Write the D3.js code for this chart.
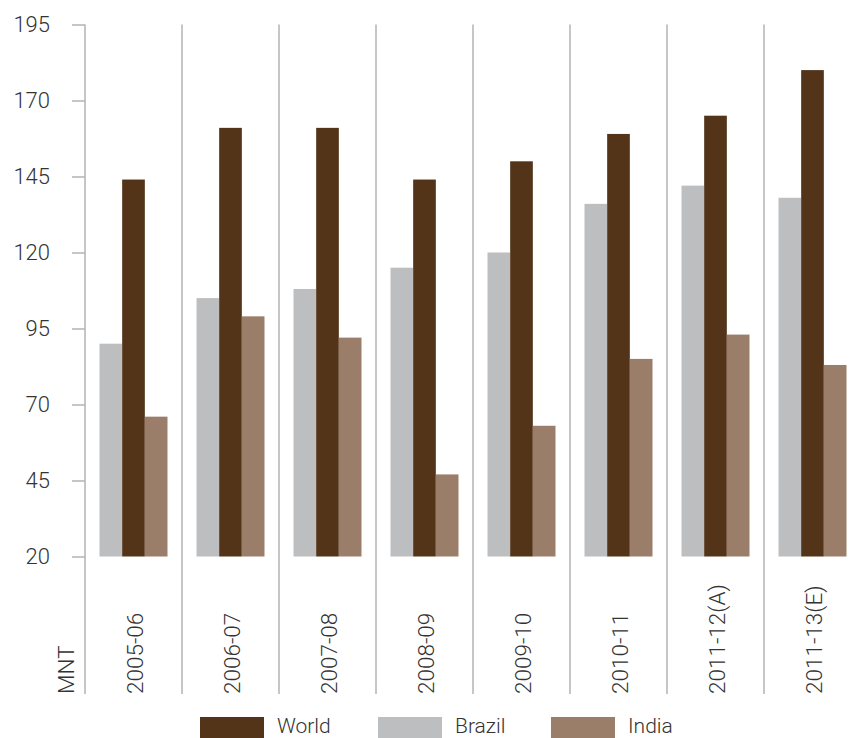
<!DOCTYPE html>
<html>
<head>
<meta charset="utf-8">
<script src="https://cdn.jsdelivr.net/npm/d3@7"></script>
<style>
  html, body { margin: 0; padding: 0; background: #fff; }
  svg text { font-family: Roboto, "Liberation Sans", sans-serif; font-weight: 300; fill: #333; }
</style>
</head>
<body>
<svg id="chart" width="857" height="738"></svg>
<script>
const categories = ["2005-06", "2006-07", "2007-08", "2008-09", "2009-10", "2010-11", "2011-12(A)", "2011-13(E)"];
const series = ["Brazil", "World", "India"];
const brazil = [90, 105, 108, 115, 120, 136, 142, 138];
const world = [144, 161, 161, 144, 150, 159, 165, 180];
const india = [66, 99, 92, 47, 63, 85, 93, 83];
const yTicks = [20, 45, 70, 95, 120, 145, 170, 195];
const legendOrder = ["World", "Brazil", "India"];
const colors = { World: "#543419", Brazil: "#bdbec0", India: "#9a7e69" };
const unitLabel = "MNT";

const values = { Brazil: brazil, World: world, India: india };

const svg = d3.select("#chart");
const axisColor = "#b3b3b3";

const y = d3.scaleLinear().domain([20, 195]).range([556.5, 24.5]);
const x = d3.scaleBand().domain(categories).range([85, 861]).paddingInner(0).paddingOuter(0);
const x1 = d3.scaleBand().domain(series).range([0, x.bandwidth()]).paddingInner(0).paddingOuter(0.64);

const lineBottom = 694;

// y axis
const yAxis = d3.axisLeft(y).tickValues(yTicks).tickSize(13).tickSizeOuter(0).tickPadding(22);
const gy = svg.append("g").attr("transform", "translate(85,0)").call(yAxis);
gy.select(".domain").remove();
gy.selectAll(".tick line").attr("stroke", axisColor).attr("stroke-width", 1.5);
gy.selectAll(".tick text").attr("font-size", 22).attr("fill", "#333")
  .style("font-family", "Roboto, sans-serif").style("font-weight", 300);

// vertical separators (including y axis line)
const seps = categories.map(c => x(c));
svg.append("g").selectAll("line").data(seps).join("line")
  .attr("x1", d => d).attr("x2", d => d)
  .attr("y1", y(195)).attr("y2", lineBottom)
  .attr("stroke", axisColor).attr("stroke-width", 1.5);

// bars
const groups = svg.append("g").selectAll("g").data(categories).join("g")
  .attr("transform", c => `translate(${x(c)},0)`);
groups.selectAll("rect")
  .data((c, i) => series.map(s => ({ s, v: values[s][i] })))
  .join("rect")
  .attr("x", d => x1(d.s))
  .attr("width", x1.bandwidth())
  .attr("y", d => y(d.v))
  .attr("height", d => y(20) - y(d.v))
  .attr("fill", d => colors[d.s]);

// category labels (rotated)
svg.append("g").selectAll("text").data(categories).join("text")
  .attr("transform", c => `translate(${x(c) + x.bandwidth() / 2 + 2},${lineBottom}) rotate(-90)`)
  .attr("dy", "0.35em")
  .attr("text-anchor", "start")
  .attr("font-size", 22.5)
  .text(c => c);

// unit label
svg.append("text")
  .attr("transform", `translate(66,${lineBottom}) rotate(-90)`)
  .attr("dy", "0.35em")
  .attr("text-anchor", "start")
  .attr("font-size", 22.5)
  .text(unitLabel);

// legend
const legendX = [200, 378, 551];
const lg = svg.append("g").selectAll("g").data(legendOrder).join("g")
  .attr("transform", (d, i) => `translate(${legendX[i]},717)`);
lg.append("rect").attr("width", 64).attr("height", 21).attr("fill", d => colors[d]);
lg.append("text").attr("x", 77).attr("y", 15.5).attr("font-size", 21).text(d => d);
</script>
</body>
</html>
